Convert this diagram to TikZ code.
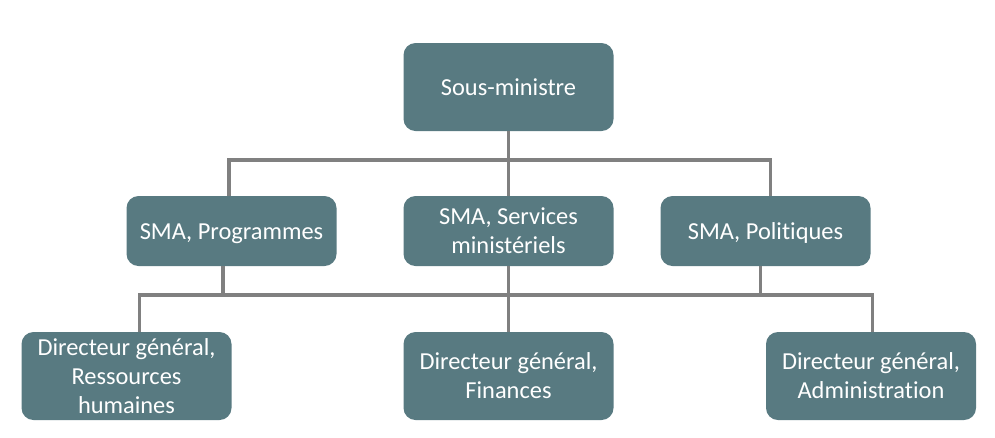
\documentclass[tikz,border=0pt]{standalone}
\usepackage{fontspec}
\setmainfont[Ligatures=NoCommon]{Carlito}
\usepackage{tikz}
\usetikzlibrary{positioning,calc}

\definecolor{boxteal}{HTML}{587A81}
\definecolor{linkgray}{HTML}{808080}

\begin{document}
\begin{tikzpicture}[
    x=0.75pt, y=-0.75pt,
    box/.style={fill=boxteal, rounded corners=9pt, text=white, align=center, inner sep=0pt,
      minimum width=157.5pt, font=\fontsize{18.3}{21.8}\selectfont},
    short/.style={box, minimum height=52.5pt},
    tall/.style={box, minimum height=66pt},
    oneline/.style={text height=15pt, text depth=2pt},
    link/.style={draw=linkgray, line width=2.3pt}
  ]
  \useasboundingbox (0,0) rectangle (995,437);

  % top level
  \node[tall] (SM) at (508.5,87) {Sous-ministre};

  % SMA level
  \node[short, oneline] (SMA1) at (231.5,231) {SMA, Programmes};
  \node[short] (SMA2) at (508.5,231) {SMA, Services\\ministériels};
  \node[short, oneline] (SMA3) at (765.5,231) {SMA, Politiques};

  % directeurs
  \node[tall] (DG1) at (126.5,376) {Directeur général,\\Ressources\\humaines};
  \node[tall] (DG2) at (508.5,376) {Directeur général,\\Finances};
  \node[tall] (DG3) at (871,376) {Directeur général,\\Administration};

  \coordinate (bus1) at (508.5,160);
  \coordinate (bus2) at (508.5,295);

  \draw[link] (SM) -- (SMA2);
  \draw[link] ([xshift=-1.9pt]SMA1.north) |- (bus1) -| ([xshift=3.4pt]SMA3.north);

  \draw[link] (SMA2) -- (DG2);
  \draw[link] ([xshift=10pt]DG1.north) |- (bus2) -| ([xshift=0.8pt]DG3.north);
  \draw[link] ([xshift=-6.4pt]SMA1.south) -- ([xshift=-6.4pt]SMA1.south |- bus2);
  \draw[link] ([xshift=-4.1pt]SMA3.south) -- ([xshift=-4.1pt]SMA3.south |- bus2);
\end{tikzpicture}
\end{document}
